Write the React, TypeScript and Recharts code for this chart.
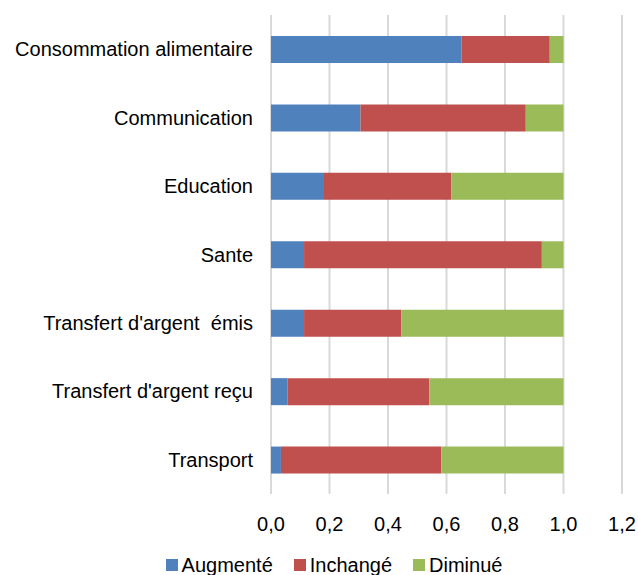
import React from 'react';
import {
  BarChart,
  Bar,
  XAxis,
  YAxis,
  CartesianGrid,
  Legend,
} from 'recharts';

const categories = [
  'Consommation alimentaire',
  'Communication',
  'Education',
  'Sante',
  "Transfert d'argent\u00a0 émis",
  "Transfert d'argent reçu",
  'Transport',
];
const augmente = [0.651, 0.306, 0.178, 0.113, 0.113, 0.057, 0.034];
const inchange = [0.302, 0.565, 0.438, 0.813, 0.332, 0.484, 0.548];
const diminue = [0.047, 0.129, 0.384, 0.074, 0.555, 0.459, 0.418];
const xTicks = [0, 0.2, 0.4, 0.6, 0.8, 1.0, 1.2];

const series = [
  { key: 'Augmenté', color: '#4F81BD' },
  { key: 'Inchangé', color: '#C0504D' },
  { key: 'Diminué', color: '#9BBB59' },
];

const data = categories.map((name, i) => ({
  name,
  Augmenté: augmente[i],
  Inchangé: inchange[i],
  Diminué: diminue[i],
}));

const font = "'Liberation Sans', Arial, sans-serif";
const tickStyle = { fontFamily: font, fontSize: 20, fill: '#000' };

const LegendContent = () => (
  <div
    style={{
      display: 'flex',
      justifyContent: 'center',
      paddingLeft: 30,
      paddingTop: 16,
      fontFamily: font,
      fontSize: 20,
      color: '#000',
      lineHeight: '20px',
    }}
  >
    {series.map((s, i) => (
      <div
        key={s.key}
        style={{ display: 'flex', alignItems: 'center', marginRight: i < series.length - 1 ? 21 : 0 }}
      >
        <span style={{ width: 12, height: 12, background: s.color, marginRight: 4, display: 'inline-block' }} />
        <span>{s.key}</span>
      </div>
    ))}
  </div>
);

const App: React.FC = () => {
  return (
    <div style={{ position: 'absolute', left: 0, top: 0, background: '#fff' }}>
      <BarChart
        width={638}
        height={575}
        data={data}
        layout="vertical"
        margin={{ top: 15, right: 16, left: 0, bottom: 0 }}
        barSize={27}
      >
        <CartesianGrid horizontal={false} stroke="#d9d9d9" strokeWidth={2} />
        <XAxis
          type="number"
          domain={[0, 1.2]}
          ticks={xTicks}
          axisLine={false}
          tickLine={false}
          tickMargin={17}
          height={45}
          tick={tickStyle}
          tickFormatter={(v: number) => v.toFixed(1).replace('.', ',')}
        />
        <YAxis
          type="category"
          dataKey="name"
          width={271}
          axisLine={false}
          tickLine={false}
          tickSize={0}
          tickMargin={18}
          tick={tickStyle}
        />
        <Legend verticalAlign="bottom" height={36} wrapperStyle={{ left: 0, width: 638 }} content={LegendContent} />
        {series.map((s) => (
          <Bar key={s.key} dataKey={s.key} stackId="a" fill={s.color} isAnimationActive={false} />
        ))}
      </BarChart>
    </div>
  );
};

export default App;
